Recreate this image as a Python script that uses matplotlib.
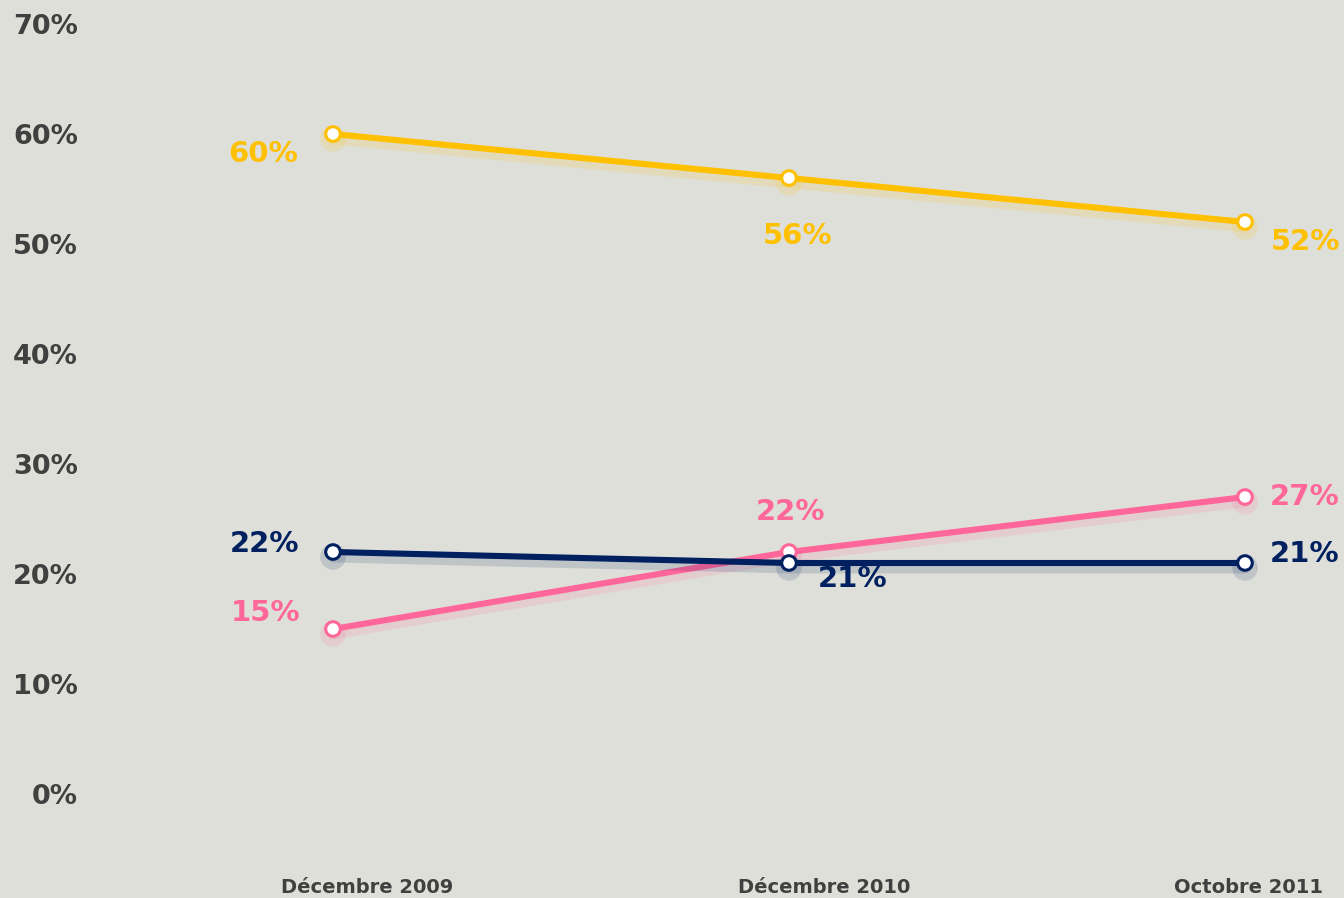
import matplotlib
matplotlib.use("Agg")
import matplotlib.pyplot as plt
import matplotlib.patheffects as pe
import matplotlib.transforms as mtransforms

# ---- data ----
periods = ["Décembre 2009", "Décembre 2010", "Octobre 2011"]
yellow_vals = [60, 56, 52]
pink_vals = [15, 22, 27]
navy_vals = [22, 21, 21]
ytick_vals = [0, 10, 20, 30, 40, 50, 60, 70]
ytick_labels = [f"{v}%" for v in ytick_vals]

BG = "#DFDFD9"
YELLOW = "#FFC000"
PINK = "#FF6699"
NAVY = "#002060"
TICK = "#404040"

W, H = 1344, 898
fig = plt.figure(figsize=(W / 100, H / 100), dpi=100, facecolor=BG)
ax = fig.add_axes([100 / W, (H - 870) / H, (W - 100) / W, 870 / H])
ax.set_facecolor(BG)

x = list(range(len(periods)))
series = [
    (yellow_vals, YELLOW, [(-70, -20), (9, -58), (61, -20)]),
    (pink_vals, PINK, [(-67, 16), (2, 40), (60, 0)]),
    (navy_vals, NAVY, [(-68, 8), (64, -16), (60, 9)]),
]

for vals, col, offs in series:
    ax.plot(x, vals, color=col, lw=4.4, solid_capstyle="round", zorder=3,
            marker="o", markersize=10.5, markerfacecolor="white",
            markeredgecolor=col, markeredgewidth=2.2,
            path_effects=[pe.SimpleLineShadow(offset=(0, -3.5), shadow_color=col,
                                              alpha=0.14, linewidth=8),
                          pe.Normal()])
    for xi, v, (dx, dy) in zip(x, vals, offs):
        ax.annotate(f"{v}%", (xi, v), xytext=(dx, dy), textcoords="offset pixels",
                    ha="center", va="center", color=col, fontsize=21,
                    fontweight="bold", zorder=4)

ax.set_xlim(-(333 - 100) / 456, 2 + (W - 1245) / 456)
ax.set_ylim(-76 / 11, 70 + 24 / 11)

ax.set_yticks(ytick_vals)
ax.set_yticklabels(ytick_labels)
ax.set_xticks(x)
ax.set_xticklabels(periods)

ax.tick_params(axis="y", length=0, pad=16, labelsize=19.5, labelcolor=TICK)
ax.tick_params(axis="x", length=0, pad=6, labelsize=14, labelcolor=TICK)
for lab in ax.get_yticklabels():
    lab.set_fontweight("bold")
shifts = [34, 35, 4]
for lab, s in zip(ax.get_xticklabels(), shifts):
    lab.set_fontweight("bold")
    lab.set_transform(lab.get_transform() +
                      mtransforms.ScaledTranslation(s / 100, 0, fig.dpi_scale_trans))

for sp in ax.spines.values():
    sp.set_visible(False)

fig.savefig("out.png", dpi=100, facecolor=BG)
